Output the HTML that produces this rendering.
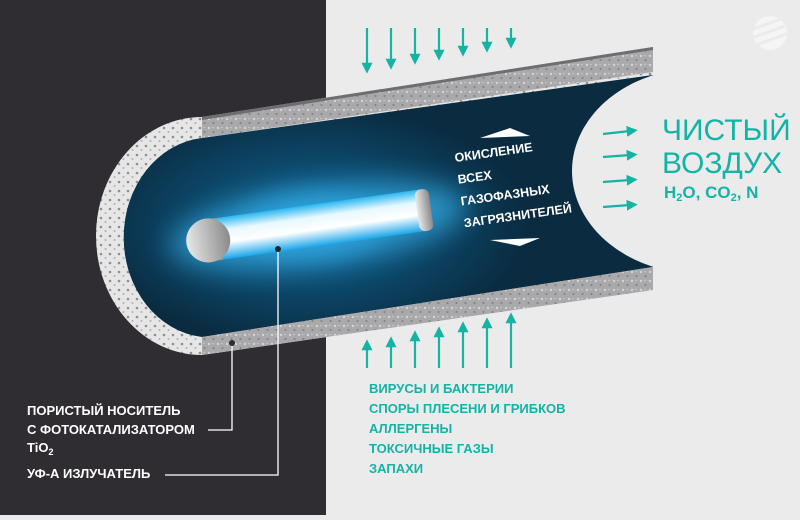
<!DOCTYPE html>
<html><head><meta charset="utf-8"><style>
html,body{margin:0;padding:0;}
body{width:800px;height:515px;overflow:hidden;background:#ebebeb;font-family:"Liberation Sans",sans-serif;}
</style></head><body>
<svg width="800" height="515" viewBox="0 0 800 515" xmlns="http://www.w3.org/2000/svg">
<defs>
<pattern id="dots" width="9" height="9" patternUnits="userSpaceOnUse">
<rect width="9" height="9" fill="#a9a9ab"/>
<circle cx="2" cy="2" r="1.2" fill="#d4d4d6"/><circle cx="6.5" cy="6" r="1" fill="#7f7f82"/><circle cx="6" cy="1.5" r="0.7" fill="#cfcfd1"/>
</pattern>
<pattern id="dots2" width="9" height="9" patternUnits="userSpaceOnUse">
<rect width="9" height="9" fill="#e6e6e6"/>
<circle cx="2" cy="2" r="1.3" fill="#8f8f92"/><circle cx="6.5" cy="6" r="1" fill="#b0b0b2"/>
</pattern>
<radialGradient id="glow" cx="310" cy="225" r="220" gradientUnits="userSpaceOnUse" gradientTransform="translate(310 225) scale(1 0.55) translate(-310 -225)">
<stop offset="0" stop-color="#1f8cc4"/><stop offset="0.4" stop-color="#0d4f74"/><stop offset="1" stop-color="#0a2b40"/>
</radialGradient>
<linearGradient id="tube" x1="0" y1="0" x2="0" y2="1">
<stop offset="0" stop-color="#2bb8f0"/><stop offset="0.3" stop-color="#e8f8ff"/><stop offset="0.6" stop-color="#ffffff"/><stop offset="1" stop-color="#1aa6ea"/>
</linearGradient>
<linearGradient id="metal" x1="0" y1="0" x2="1" y2="0">
<stop offset="0" stop-color="#e8e8e8"/><stop offset="1" stop-color="#8a8a8a"/>
</linearGradient>
<filter id="blur" x="-50%" y="-100%" width="200%" height="300%"><feGaussianBlur stdDeviation="14"/></filter>
<marker id="ah" viewBox="0 0 10 10" refX="3" refY="5" markerWidth="11" markerHeight="11" markerUnits="userSpaceOnUse" orient="auto"><path d="M0,0 L10,5 L0,10 Z" fill="#13b3a5"/></marker>
</defs>
<rect x="0" y="0" width="326" height="515" fill="#2f2d31"/>
<path d="M202,117 L653,47 L653,290 L202,355 A106,119 0 0 1 202,117 Z" fill="url(#dots2)"/>
<path d="M202,138 L653,75 L653,267 L202,337 A87,100 0 0 1 202,138 Z" fill="url(#glow)"/>
<ellipse cx="700" cy="171" rx="128" ry="103" fill="#ebebeb"/>
<path d="M202,117 L653,47 L653,72 L202,138 Z" fill="url(#dots)"/>
<path d="M202,117 L653,47 L653,50 L202,120 Z" fill="#6e6e70"/>
<path d="M202,337 L653,267 L653,290 L202,355 Z" fill="url(#dots)"/>
<g transform="rotate(-8 318 224)">
<ellipse cx="318" cy="226" rx="150" ry="38" fill="#39b6f2" opacity="0.7" filter="url(#blur)"/>
<rect x="205" y="204" width="220" height="42" fill="url(#tube)"/>
<rect x="418" y="204" width="14" height="42" rx="6" fill="url(#metal)"/>
<rect x="205" y="204" width="14" height="42" fill="#9a9a9a"/>
<ellipse cx="207" cy="225" rx="22" ry="22" fill="url(#metal)"/>
</g>
<g stroke="#ffffff" stroke-width="1.3" fill="none">
<polyline points="208,430 232,430 232,343"/>
<polyline points="165,475 278,475 278,249"/>
</g>
<circle cx="232" cy="343" r="3" fill="#2f2d31"/>
<circle cx="278" cy="249" r="3" fill="#1a2530"/>
<g stroke="#13b3a5" stroke-width="2.2" marker-end="url(#ah)">
<line x1="367" y1="28" x2="367" y2="66"/><line x1="391" y1="28" x2="391" y2="62"/>
<line x1="415" y1="28" x2="415" y2="57"/><line x1="439" y1="28" x2="439" y2="53"/>
<line x1="463" y1="28" x2="463" y2="49"/><line x1="487" y1="28" x2="487" y2="45"/>
<line x1="511" y1="28" x2="511" y2="41"/>
<line x1="367" y1="368" x2="367" y2="347"/><line x1="391" y1="368" x2="391" y2="344"/>
<line x1="415" y1="368" x2="415" y2="338"/><line x1="439" y1="368" x2="439" y2="334"/>
<line x1="463" y1="368" x2="463" y2="329"/><line x1="487" y1="368" x2="487" y2="325"/>
<line x1="511" y1="368" x2="511" y2="320"/>
<line x1="603" y1="134" x2="630" y2="131"/><line x1="603" y1="157" x2="630" y2="155"/>
<line x1="603" y1="182" x2="630" y2="180"/><line x1="603" y1="207" x2="630" y2="205"/>
</g>
<path d="M480,138 L530,136 L510,128 Z" fill="#fff"/>
<path d="M490,240 L540,238 L520,246 Z" fill="#fff"/>
<g transform="rotate(-8 455 160)" fill="#fff" font-weight="bold" font-size="12.5">
<text x="455" y="162">ОКИСЛЕНИЕ</text>
<text x="455" y="184">ВСЕХ</text>
<text x="455" y="206">ГАЗОФАЗНЫХ</text>
<text x="455" y="228">ЗАГРЯЗНИТЕЛЕЙ</text>
</g>
<g fill="#13b3a5">
<text x="662" y="140" font-size="30">ЧИСТЫЙ</text>
<text x="662" y="173" font-size="30">ВОЗДУХ</text>
<text x="664" y="198" font-size="17" font-weight="bold">H<tspan font-size="11" dy="3">2</tspan><tspan dy="-3">O, CO</tspan><tspan font-size="11" dy="3">2</tspan><tspan dy="-3">, N</tspan></text>
<g font-size="13" font-weight="bold">
<text x="369" y="393">ВИРУСЫ И БАКТЕРИИ</text>
<text x="369" y="413">СПОРЫ ПЛЕСЕНИ И ГРИБКОВ</text>
<text x="369" y="433">АЛЛЕРГЕНЫ</text>
<text x="369" y="453">ТОКСИЧНЫЕ ГАЗЫ</text>
<text x="369" y="473">ЗАПАХИ</text>
</g>
</g>
<g fill="#fff" font-size="13" font-weight="bold">
<text x="27" y="415">ПОРИСТЫЙ НОСИТЕЛЬ</text>
<text x="27" y="434">С ФОТОКАТАЛИЗАТОРОМ</text>
<text x="27" y="452">TiO<tspan font-size="9" dy="3">2</tspan></text>
<text x="27" y="478">УФ-А ИЗЛУЧАТЕЛЬ</text>
</g>
<g>
<circle cx="770" cy="33" r="17" fill="#ffffff" opacity="0.5"/>
<rect x="750" y="22" width="36" height="3" fill="#ebebeb" transform="rotate(-20 770 33)"/>
<rect x="750" y="30" width="36" height="3" fill="#ebebeb" transform="rotate(-20 770 33)"/>
<rect x="750" y="38" width="36" height="3" fill="#ebebeb" transform="rotate(-20 770 33)"/>
</g>
</svg>
</body></html>
